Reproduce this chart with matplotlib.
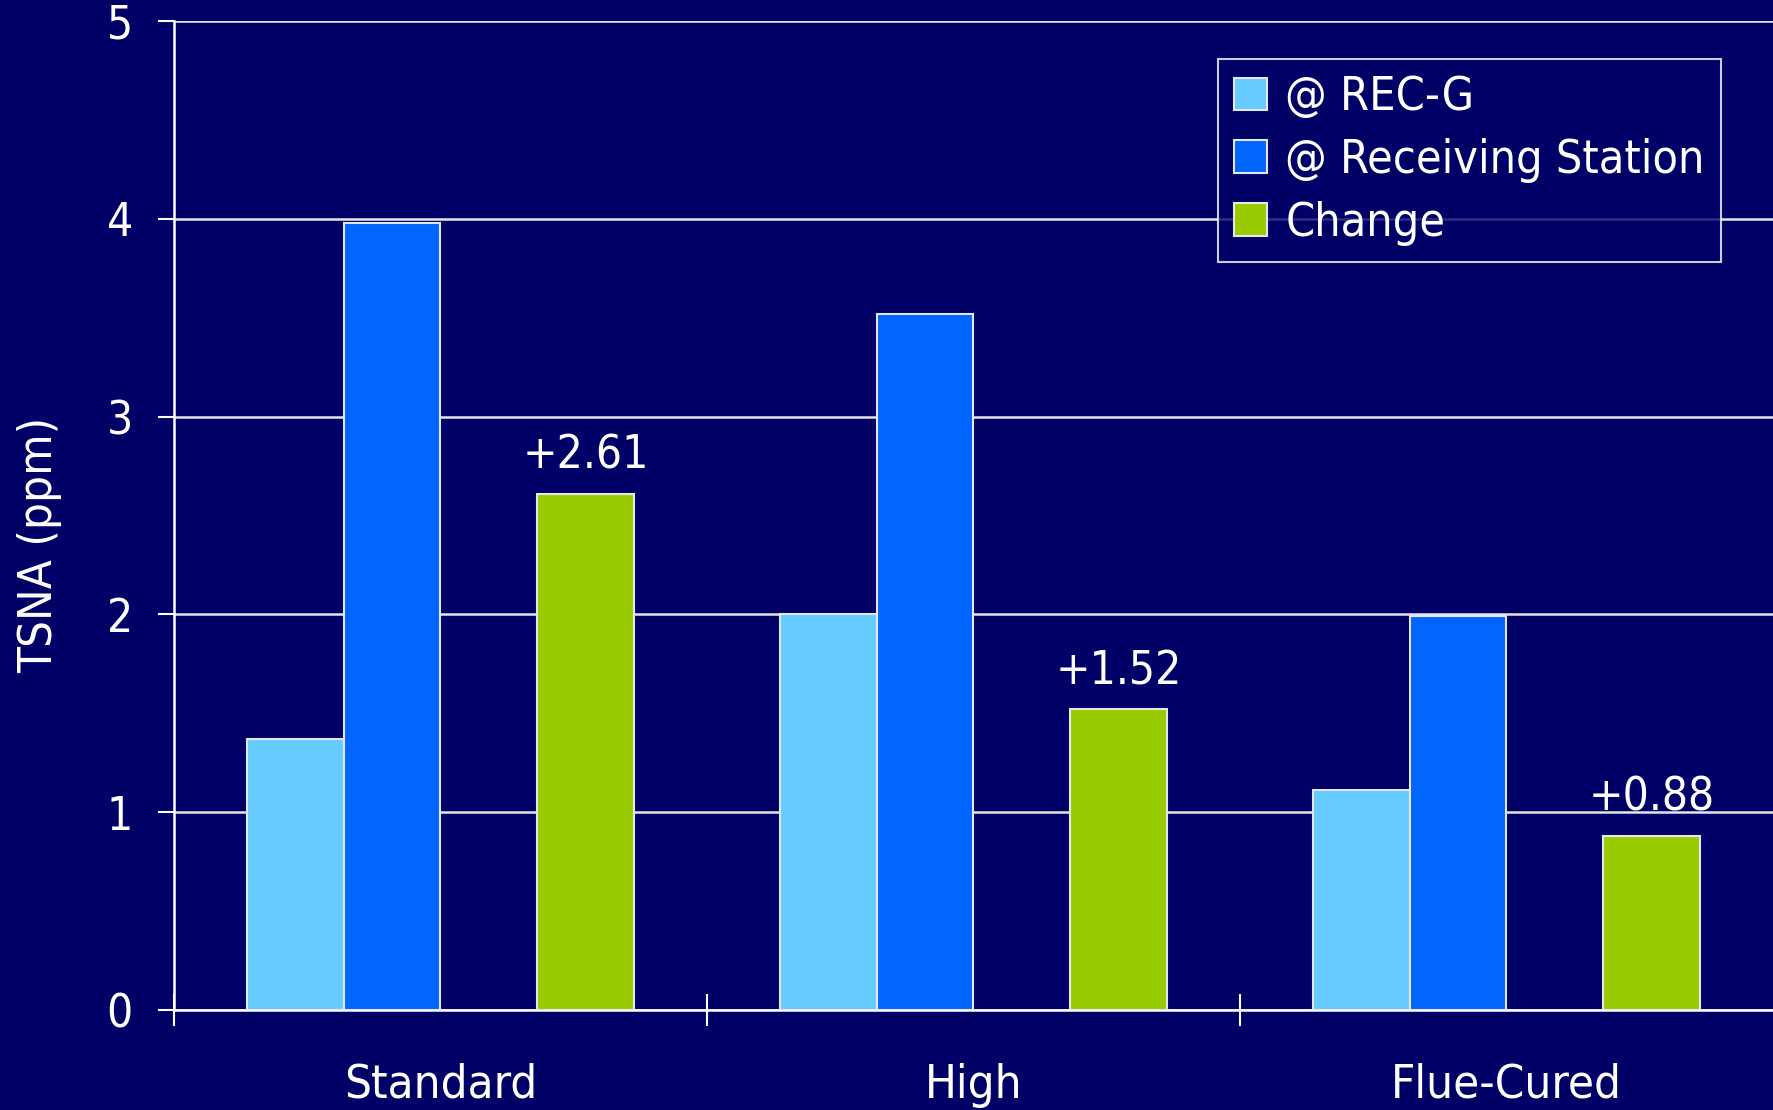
import numpy as np
import matplotlib.pyplot as plt

categories = ['Standard', 'High', 'Flue-Cured']
rec_g = [1.37, 2.00, 1.11]
receiving = [3.98, 3.52, 1.99]
change = [2.61, 1.52, 0.88]
change_labels = ['+2.61', '+1.52', '+0.88']
series_names = ['@ REC-G', '@ Receiving Station', 'Change']

bg = '#000066'
plt.rcParams['font.family'] = ['DejaVu Sans']
plt.rcParams['font.stretch'] = 'condensed'

fig = plt.figure(figsize=(17.73, 11.10), dpi=100)
fig.patch.set_facecolor(bg)
ax = fig.add_axes([0.0981, 0.0901, 0.9019, 0.891])
ax.set_facecolor(bg)

x = np.arange(len(categories))
w = 1 / 5.5  # 4 slots per group (3rd one empty), excel style gap
edge = dict(edgecolor='#E6E6E6', lw=1.5, zorder=3, align='edge')
ax.bar(x - 2 * w, rec_g, w, color='#66CCFF', label=series_names[0], **edge)
ax.bar(x - w, receiving, w, color='#0066FF', label=series_names[1], **edge)
ax.bar(x + w, change, w, color='#99CC00', label=series_names[2], **edge)

for xi, v, lab in zip(x, change, change_labels):
    ax.annotate(lab, (xi + 1.5 * w, v), xytext=(0, 27), textcoords='offset points',
                ha='center', va='center', color='white', fontsize=33)

ax.set_xlim(-0.5, 2.5)
ax.set_ylim(0, 5)
ax.set_yticks([0, 1, 2, 3, 4, 5])
ax.yaxis.grid(True, color='#E6E6E6', lw=1.8, zorder=0)
ax.set_axisbelow(True)

ax.set_xticks([-0.5, 0.5, 1.5])
ax.set_xticklabels([])
ax.set_xticks(x, minor=True)
ax.set_xticklabels(categories, minor=True)
ax.tick_params(axis='x', which='major', direction='inout', length=23, width=1.5, color='white')
ax.tick_params(axis='x', which='minor', length=0, pad=38, labelsize=34, labelcolor='white')
ax.tick_params(axis='y', direction='out', length=11.5, width=1.5, color='white',
               pad=18, labelsize=33, labelcolor='white')

for s in ['top', 'right']:
    ax.spines[s].set_visible(False)
ax.spines['left'].set_color('white')
ax.spines['left'].set_linewidth(1.8)
ax.spines['bottom'].set_color('white')
ax.spines['bottom'].set_linewidth(1.8)

ax.set_ylabel('TSNA (ppm)', color='white', fontsize=34, va='center')
ax.yaxis.set_label_coords(-0.084, 0.47)

leg = ax.legend(loc='upper right', bbox_to_anchor=(0.9675, 0.9616), fontsize=33.5,
                frameon=True, fancybox=False, facecolor=bg, edgecolor='white',
                labelcolor='white', handlelength=0.7, handleheight=0.7,
                handletextpad=0.4, borderpad=0.35, labelspacing=0.38, borderaxespad=0)
leg.get_frame().set_linewidth(1.5)

fig.savefig('out.png', dpi=100, facecolor=bg)
